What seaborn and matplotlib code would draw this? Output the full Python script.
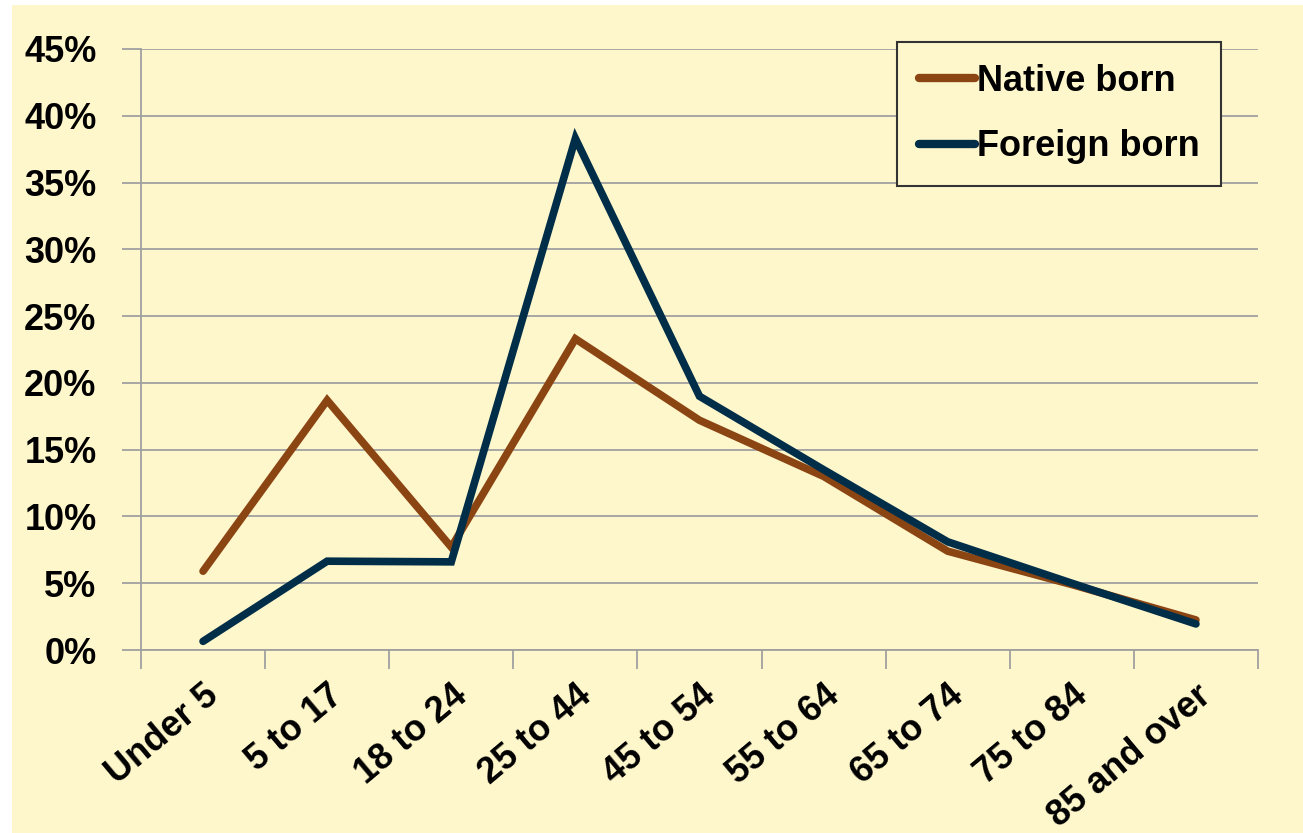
import numpy as np
import pandas as pd
import matplotlib
matplotlib.use("Agg")
import matplotlib.pyplot as plt
import seaborn as sns
from matplotlib.patches import Rectangle
from matplotlib.ticker import FuncFormatter, FixedLocator

# data (percent of population)
age_groups = ["Under 5", "5 to 17", "18 to 24", "25 to 44", "45 to 54",
              "55 to 64", "65 to 74", "75 to 84", "85 and over"]
native_born = [5.9, 18.7, 7.7, 23.3, 17.2, 13.0, 7.4, 4.9, 2.25]
foreign_born = [0.65, 6.65, 6.6, 38.3, 19.0, 13.5, 8.1, 5.0, 1.95]

df = pd.DataFrame({"age": age_groups * 2,
                   "pct": native_born + foreign_born,
                   "group": ["Native born"] * 9 + ["Foreign born"] * 9})

bg = "#FFF7CC"
brown = "#8B4513"
navy = "#002E48"
grid_col = "#A0A0A0"

sns.set_theme(style="white")
plt.rcParams['font.family'] = ['Liberation Sans', 'DejaVu Sans']
plt.rcParams['font.weight'] = 'bold'
plt.rcParams['text.color'] = 'black'
plt.rcParams['xtick.color'] = 'black'
plt.rcParams['ytick.color'] = 'black'

fig = plt.figure(figsize=(13.03, 8.33), dpi=100)
fig.patch.set_facecolor("white")
fig.patches.append(Rectangle((12 / 1303, 0), 1 - 12 / 1303, 1 - 5 / 833,
                             transform=fig.transFigure, facecolor=bg,
                             edgecolor="none", zorder=-10))
ax = fig.add_axes([141 / 1303, 1 - 650 / 833, (1258 - 141) / 1303, (650 - 49) / 833])
ax.set_facecolor(bg)

x_pos = {a: i for i, a in enumerate(age_groups)}
df["x"] = df["age"].map(x_pos)

sns.lineplot(data=df, x="x", y="pct", hue="group",
             palette={"Native born": brown, "Foreign born": navy},
             hue_order=["Native born", "Foreign born"],
             linewidth=5.5, ax=ax, sort=False, zorder=3,
             solid_capstyle="round", solid_joinstyle="miter")

ax.set_xlim(-0.5, len(age_groups) - 0.5)
ax.set_ylim(0, 45)
ax.set_yticks(np.arange(0, 46, 5))
ax.yaxis.set_major_formatter(FuncFormatter(lambda v, p: f"{v:.0f}%"))
ax.grid(axis="y", color=grid_col, linewidth=1.3)
ax.set_axisbelow(True)

# category labels centred between tick marks
ax.xaxis.set_major_locator(FixedLocator(np.arange(-0.5, len(age_groups), 1)))
ax.xaxis.set_minor_locator(FixedLocator(np.arange(len(age_groups))))
ax.set_xticklabels([""] * len(ax.get_xticks()))
ax.set_xticklabels(age_groups, minor=True, rotation=40, ha="right",
                   rotation_mode="anchor", fontsize=26, fontweight="bold")
ax.tick_params(axis="x", which="major", length=14, width=1.3, color=grid_col,
               direction="out", bottom=True)
ax.tick_params(axis="x", which="minor", length=0, pad=20)
ax.tick_params(axis="y", length=14, width=1.3, color=grid_col, direction="out",
               left=True, labelsize=26, pad=18)
for lab in ax.get_yticklabels():
    lab.set_fontweight("bold")

for s in ["top", "right"]:
    ax.spines[s].set_visible(False)
for s in ["left", "bottom"]:
    ax.spines[s].set_color(grid_col)
    ax.spines[s].set_linewidth(1.3)

ax.set_xlabel("")
ax.set_ylabel("")

leg = ax.legend(loc="upper right", bbox_to_anchor=((1221 - 141) / (1258 - 141), (650 - 42) / (650 - 49)),
                fontsize=26, frameon=True, fancybox=False, handlelength=1.55,
                handletextpad=0.05, borderpad=0.6, labelspacing=0.85,
                borderaxespad=0)
leg.get_frame().set_edgecolor("#333333")
leg.get_frame().set_facecolor(bg)
leg.get_frame().set_linewidth(1.5)
leg.get_frame().set_alpha(1)
for t in leg.get_texts():
    t.set_fontweight("bold")
for h in leg.get_lines():
    h.set_linewidth(6)

fig.savefig("out.png", dpi=100, facecolor=fig.get_facecolor())
